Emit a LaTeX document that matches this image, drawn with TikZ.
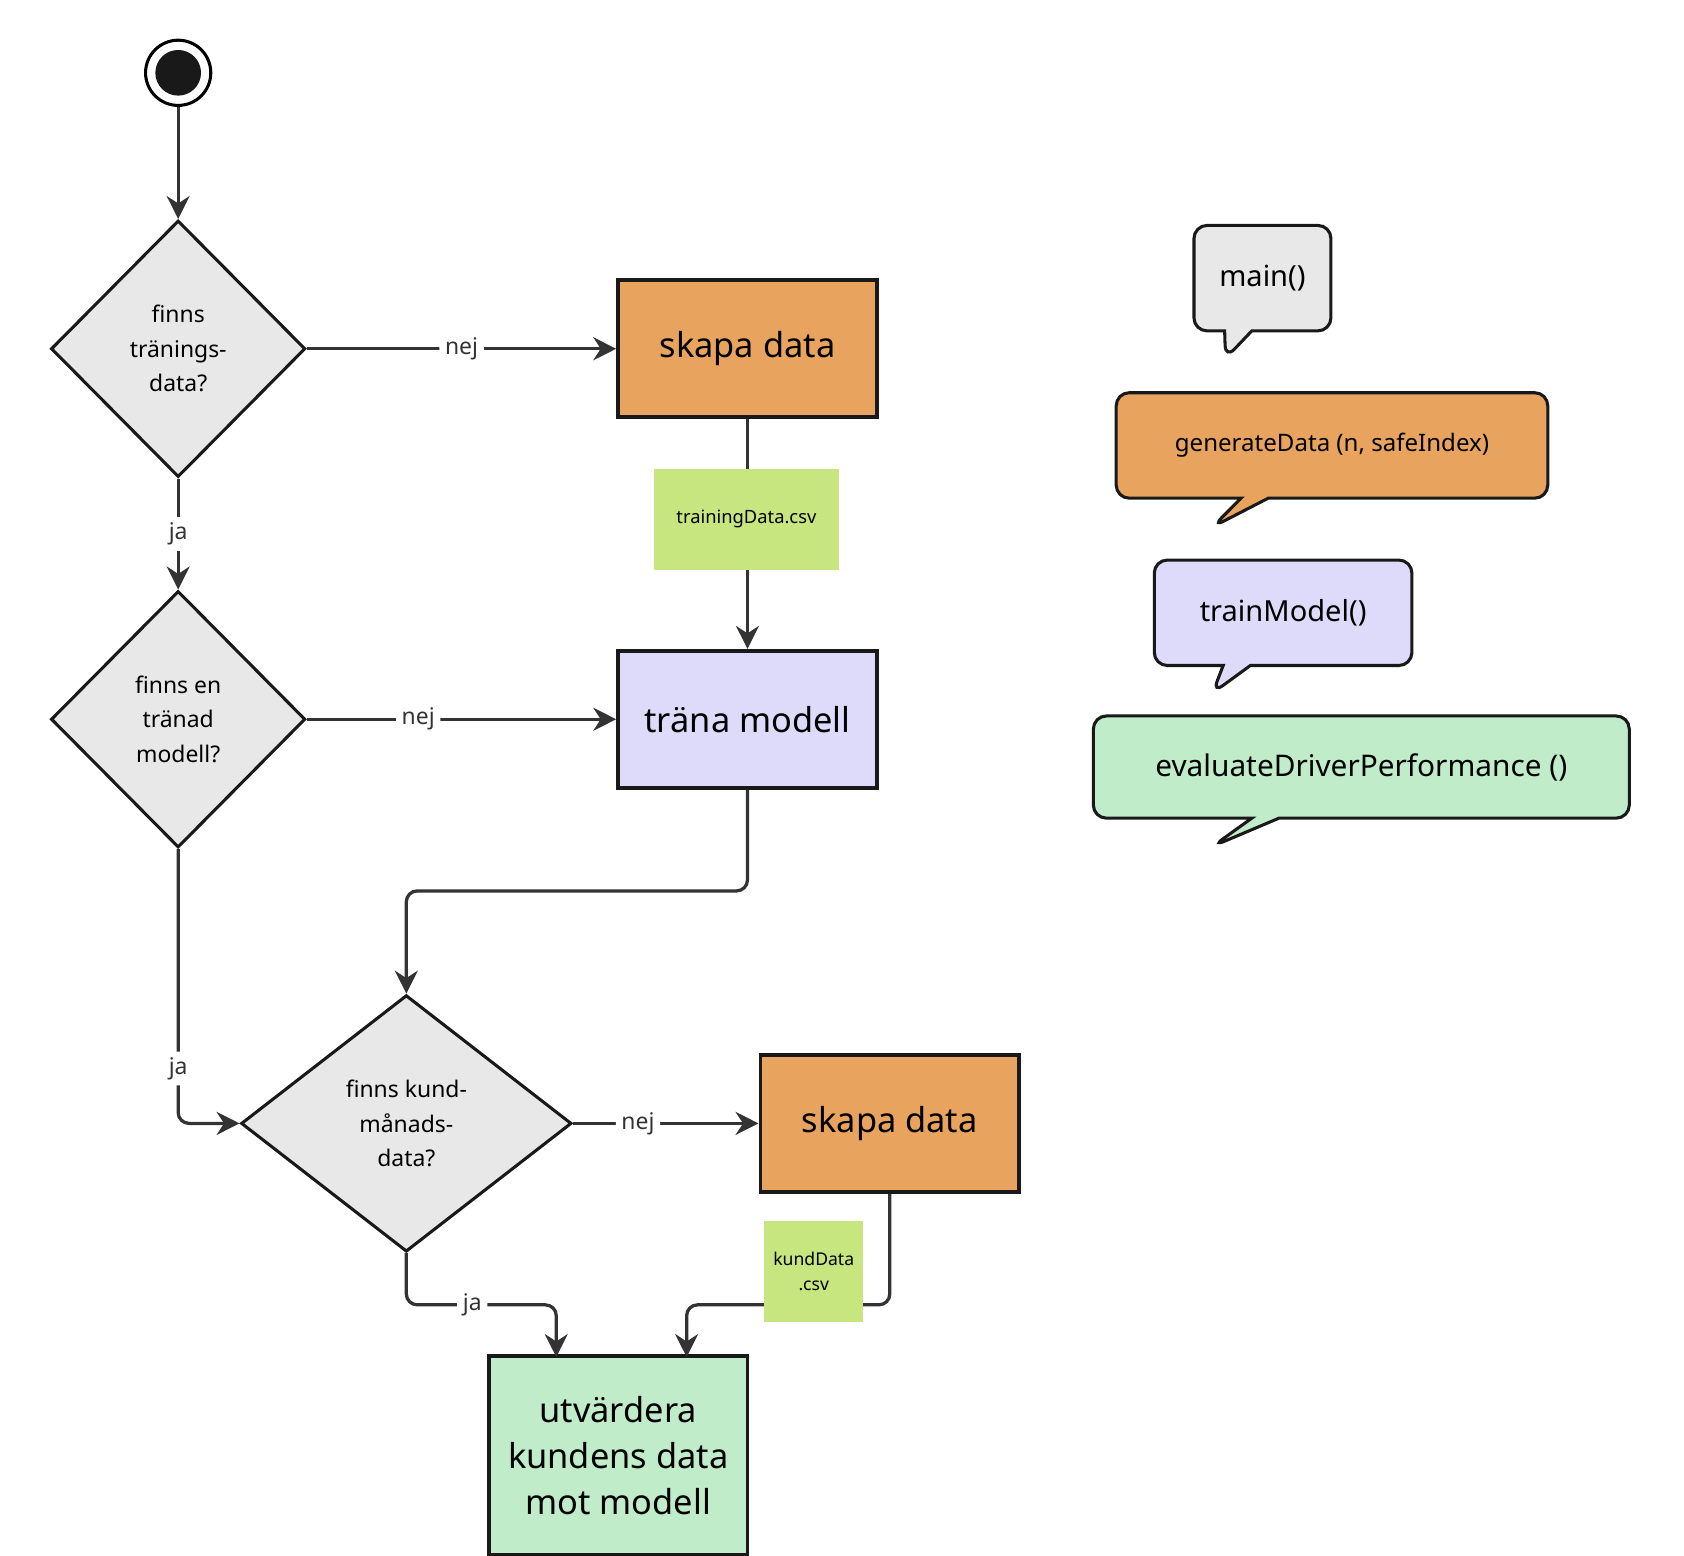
\documentclass[tikz,border=0pt]{standalone}
\usepackage{fontspec}
\setmainfont{Noto Sans}
\usetikzlibrary{shapes.geometric,shapes.callouts,arrows.meta}
\definecolor{qgray}{HTML}{E8E8E8}
\definecolor{qorange}{HTML}{E8A45E}
\definecolor{qlav}{HTML}{DEDBFA}
\definecolor{qgreen}{HTML}{C0ECC9}
\definecolor{qnote}{HTML}{C7E67F}
\definecolor{qline}{HTML}{333333}
\tikzset{
  decision/.style={diamond,draw=black!90,line width=0.8pt,fill=qgray,inner sep=0pt,
    font=\fontsize{6}{9}\selectfont\bfseries,align=center},
  task/.style={rectangle,draw=black!90,line width=1pt,inner sep=0pt,
    minimum width=2.38cm,minimum height=1.26cm,font=\fontsize{9}{12}\selectfont\bfseries,align=center},
  note/.style={rectangle,fill=qnote,inner sep=0pt,align=center},
  bubble/.style={rectangle callout,rounded corners=0.12cm,draw=black!90,line width=0.8pt,inner sep=0pt},
  flow/.style={draw=qline,line width=0.85pt,-{Stealth[length=6pt,width=6pt]},rounded corners=0.1cm},
  lbl/.style={fill=white,inner sep=1.5pt,font=\fontsize{6}{7}\selectfont,text=qline}
}
\begin{document}
\begin{tikzpicture}[x=0.01cm,y=-0.01cm]
  \useasboundingbox (0,0) rectangle (1550,1432);
  % start
  \node[circle,draw=black,line width=0.8pt,minimum size=0.6cm,inner sep=0pt] (start) at (164,67) {};
  \fill[black!90] (start) circle (0.21cm);
  % decisions
  \node[decision,minimum width=2.34cm,minimum height=2.36cm] (d1) at (164,321) {finns\\tränings-\\data?};
  \node[decision,minimum width=2.34cm,minimum height=2.36cm] (d2) at (164,662) {finns en\\tränad\\modell?};
  \node[decision,minimum width=3.04cm,minimum height=2.36cm] (d3) at (374,1034) {finns kund-\\månads-\\data?};
  % tasks
  \node[task,fill=qorange] (skapa1) at (688,321) {skapa data};
  \node[task,fill=qlav] (trana) at (688,662) {träna modell};
  \node[task,fill=qorange] (skapa2) at (819,1034) {skapa data};
  \node[task,fill=qgreen,minimum height=1.83cm] (utv) at (569,1340) {utvärdera\\kundens data\\mot modell};
  \coordinate (bend) at (374,820);
  \coordinate (inL) at (512,1249);
  \coordinate (inR) at (632,1249);
  \coordinate (joinL) at (512,1201);
  \coordinate (joinR) at (632,1201);
  % connectors
  \draw[flow] (start) -- (d1.north);
  \draw[flow] (d1.east) -- node[lbl] {nej} (skapa1.west);
  \draw[flow] (d1.south) -- node[lbl] {ja} (d2.north);
  \draw[flow] (skapa1.south) -- (trana.north);
  \draw[flow] (d2.east) -- node[lbl,pos=0.36] {nej} (trana.west);
  \draw[flow] (trana.south) |- (bend) -- (d3.north);
  \draw[flow] (d2.south) |- node[lbl,pos=0.4] {ja} (d3.west);
  \draw[flow] (d3.east) -- node[lbl,pos=0.35] {nej} (skapa2.west);
  \draw[flow] (d3.south) |- node[lbl,pos=0.72] {ja} (joinL) -- (inL);
  \draw[flow] (skapa2.south) |- (joinR) -- (inR);
  % notes
  \node[note,minimum width=1.7cm,minimum height=0.93cm,font=\fontsize{4.8}{6}\selectfont] (tdata) at (687,478) {trainingData.csv};
  \node[note,minimum width=0.91cm,minimum height=0.93cm,font=\fontsize{4.6}{6.5}\selectfont] (kdata) at (749,1170) {kundData\\.csv};
  % callouts
  \node[bubble,fill=qgray,minimum width=1.26cm,minimum height=0.97cm,font=\fontsize{7.6}{9}\selectfont,
    callout absolute pointer={(1128,330)}] (cmain) at (1162,256) {main()};
  \node[bubble,fill=qorange,minimum width=3.97cm,minimum height=0.97cm,font=\fontsize{6.3}{8}\selectfont,
    callout absolute pointer={(1116,485)}] (cgen) at (1226,410) {generateData (n, safeIndex)};
  \node[bubble,fill=qlav,minimum width=2.37cm,minimum height=0.97cm,font=\fontsize{7.6}{9}\selectfont,
    callout absolute pointer={(1116,638)}] (ctrain) at (1181,564) {trainModel()};
  \node[bubble,fill=qgreen,minimum width=4.93cm,minimum height=0.94cm,font=\fontsize{7.8}{9}\selectfont,
    callout absolute pointer={(1116,779)}] (ceval) at (1253,706) {evaluateDriverPerformance ()};
\end{tikzpicture}
\end{document}
